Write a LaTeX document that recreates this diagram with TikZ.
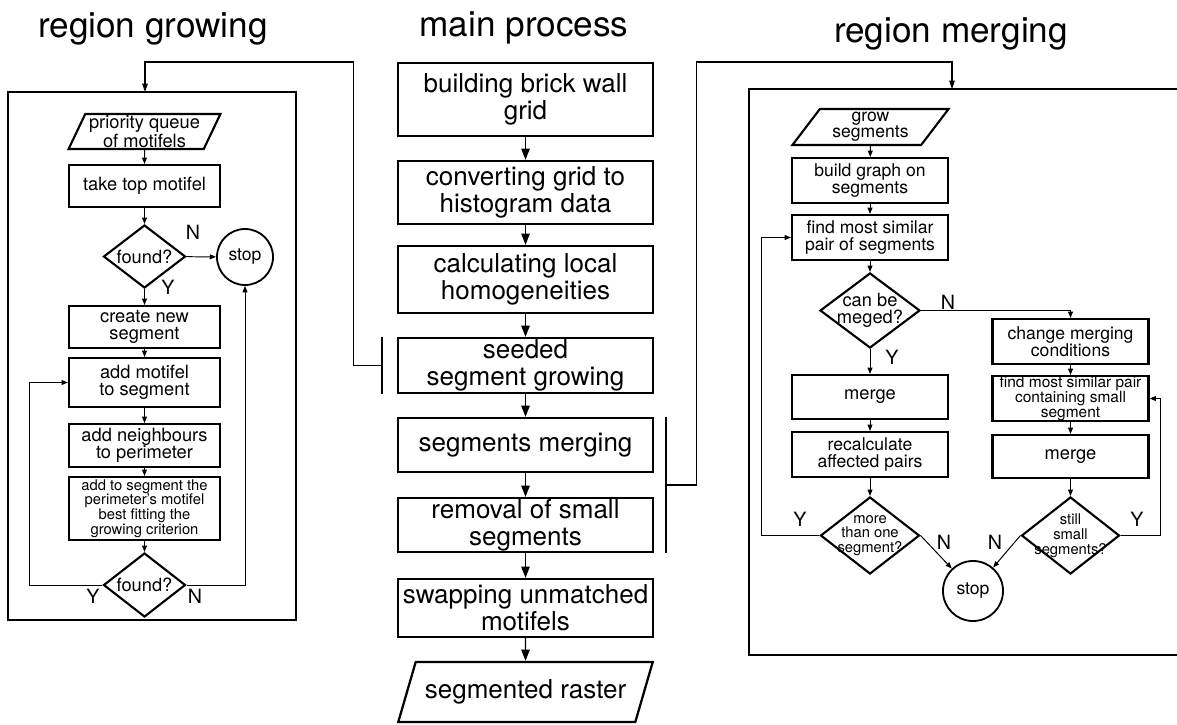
\documentclass[tikz,border=0pt]{standalone}
\usepackage{fontspec}
\setmainfont{TeX Gyre Heros}
\usetikzlibrary{shapes.geometric,arrows.meta,calc}

\tikzset{
  mainbox/.style={draw, line width=1.6pt, minimum width=6.375cm, align=center, inner sep=0pt, font=\fontsize{18.5}{19}\selectfont},
  subbox/.style={draw, line width=1.5pt, align=center, inner sep=0pt, font=\fontsize{13}{12.5}\selectfont},
  growbox/.style={subbox, minimum width=3.775cm},
  mergebox/.style={subbox, minimum width=3.9cm, font=\fontsize{12.5}{12}\selectfont},
  ask/.style={draw, diamond, line width=1.5pt, inner sep=0pt},
  slantbox/.style={draw, trapezium, trapezium stretches=true, line width=1.5pt, align=center, inner sep=0pt},
  endcircle/.style={draw, circle, line width=1.3pt, inner sep=0pt, font=\fontsize{12.5}{12}\selectfont},
  title/.style={font=\fontsize{25}{25}\selectfont, anchor=base},
  yn/.style={font=\fontsize{14}{14}\selectfont},
  mainarrow/.style={line width=0.9pt, -{Triangle[width=6pt,length=8pt]}},
  linkarrow/.style={line width=0.8pt, -{Triangle[width=4pt,length=6pt]}},
  subarrow/.style={line width=0.7pt, -{Triangle[width=3.5pt,length=4.5pt]}},
  bracketline/.style={line width=1.4pt},
  panel/.style={line width=1.6pt},
}

\begin{document}
\begin{tikzpicture}[x=0.025cm, y=-0.025cm]
  \useasboundingbox (0,0) rectangle (1177,724);
  \clip (0,0) rectangle (1177,724);

  % Titles
  \node[title] (titlegrow) at (153,37) {region growing};
  \node[title] (titlemain) at (524,36) {main process};
  \node[title] (titlemerge) at (951,42) {region merging};

  % Main process column
  \node[mainbox, minimum height=1.825cm] (brick) at (525.5,99.5) {building brick wall\\grid};
  \node[mainbox, minimum height=1.575cm] (histo) at (525.5,192.5) {converting grid to\\histogram data};
  \node[mainbox, minimum height=1.675cm] (homog) at (525.5,279.5) {calculating local\\homogeneities};
  \node[mainbox, minimum height=1.375cm] (seeded) at (525.5,365.5) {seeded\\segment growing};
  \node[mainbox, minimum height=1.35cm] (merging) at (525.5,445) {segments merging};
  \node[mainbox, minimum height=1.35cm] (removal) at (525.5,525) {removal of small\\segments};
  \node[mainbox, minimum height=1.45cm] (swap) at (525.5,608) {swapping unmatched\\motifels};
  \node[slantbox, line width=1.6pt, minimum width=6.375cm, minimum height=1.5cm,
        trapezium left angle=57, trapezium right angle=123,
        font=\fontsize{18.5}{19}\selectfont] (raster) at (525.5,692) {segmented raster};

  \draw[mainarrow] (brick) -- (histo);
  \draw[mainarrow] (histo) -- (homog);
  \draw[mainarrow] (homog) -- (seeded);
  \draw[mainarrow] (seeded) -- (merging);
  \draw[mainarrow] (merging) -- (removal);
  \draw[mainarrow] (removal) -- (swap);
  \draw[mainarrow] (swap) -- (raster);

  % Brackets and links to the two panels
  \draw[bracketline] ([xshift=-0.375cm]seeded.north west) -- ([xshift=-0.375cm]seeded.south west);
  \coordinate (seedbar) at ([xshift=-0.375cm]seeded.west);
  \coordinate (growin) at (145,92);
  \draw[linkarrow] (seedbar) -- ++(-28,0) |- ([yshift=0.75cm]growin) -- (growin);

  \draw[bracketline] ([xshift=0.3cm]merging.north east) -- ([xshift=0.3cm]removal.south east);
  \coordinate (mergebar) at ($([xshift=0.3cm]merging.north east)!0.5!([xshift=0.3cm]removal.south east)$);
  \coordinate (mergein) at (952,89);
  \draw[linkarrow] (mergebar) -- ++(30,0) |- ([yshift=0.675cm]mergein) -- (mergein);

  % Region growing panel
  \node[panel, draw, minimum width=7.2cm, minimum height=13.2cm] (growpanel) at (152,356) {};
  \node[slantbox, minimum width=3.8cm, minimum height=0.875cm,
        trapezium left angle=64, trapezium right angle=116,
        font=\fontsize{13}{12}\selectfont] (queue) at (144.5,131.5) {priority queue\\of motifels};
  \node[growbox, minimum height=1.05cm] (taketop) at (144.5,186) {take top motifel};
  \node[ask, minimum width=2.05cm, minimum height=1.575cm,
        label={[font=\fontsize{13}{13}\selectfont]center:found?}] (found1) at (144.5,256.5) {};
  \node[endcircle, minimum size=1.4cm] (stop1) at (245,257) {stop};
  \node[growbox, minimum height=1.05cm] (newseg) at (144.5,327) {create new\\segment};
  \node[growbox, minimum height=1.225cm] (addmot) at (144.5,382.5) {add motifel\\to segment};
  \node[growbox, minimum height=1.075cm] (addneigh) at (144.5,445.5) {add neighbours\\to perimeter};
  \node[growbox, minimum height=1.575cm, font=\fontsize{10.5}{10.5}\selectfont] (addbest) at (144.5,508.5)
        {add to segment the\\perimeter's motifel\\best fitting the\\growing criterion};
  \node[ask, minimum width=2.05cm, minimum height=1.6cm,
        label={[font=\fontsize{13}{13}\selectfont]center:found?}] (found2) at (144.5,585) {};

  \draw[subarrow] (queue) -- (taketop);
  \draw[subarrow] (taketop) -- (found1);
  \draw[subarrow] (found1) -- (stop1);
  \draw[subarrow] (found1) -- (newseg);
  \draw[subarrow] (newseg) -- (addmot);
  \draw[subarrow] (addmot) -- (addneigh);
  \draw[subarrow] (addneigh) -- (addbest);
  \draw[subarrow] (addbest) -- (found2);
  \draw[subarrow] (found2.west) -- ++(-73,0) |- (addmot.west);
  \draw[subarrow] (found2.east) -| (stop1.south);

  \node[yn] (grown1) at (193,232) {N};
  \node[yn] (growy1) at (168,287) {Y};
  \node[yn] (growy2) at (93,596) {Y};
  \node[yn] (grown2) at (195,596) {N};

  % Region merging panel
  \draw[panel] (1185,89) -- (749,89) -- (749,655) -- (1185,655);
  \node[slantbox, minimum width=3.925cm, minimum height=0.9cm,
        trapezium left angle=55, trapezium right angle=125,
        font=\fontsize{12.5}{11.5}\selectfont] (grow) at (870.5,127) {grow\\segments};
  \node[mergebox, minimum height=1.125cm] (graph) at (870,180.5) {build graph on\\segments};
  \node[mergebox, minimum height=1.125cm] (pair) at (870,237.5) {find most similar\\pair of segments};
  \node[ask, minimum width=2.5cm, minimum height=1.875cm,
        label={[font=\fontsize{13}{12.5}\selectfont, align=center]center:can be\\meged?}] (canmerge) at (870,310.5) {};
  \node[mergebox, minimum height=1.1cm, font=\fontsize{13}{13}\selectfont] (merge1) at (870,397) {merge};
  \node[mergebox, minimum height=1.125cm] (recalc) at (870,454.5) {recalculate\\affected pairs};
  \node[ask, minimum width=2.475cm, minimum height=1.925cm,
        label={[font=\fontsize{10.5}{10.5}\selectfont, align=center]center:more\\than one\\segment?}] (morethan) at (870,535.5) {};
  \node[mergebox, minimum height=1.125cm] (change) at (1070.5,341.5) {change merging\\conditions};
  \node[mergebox, minimum height=1.125cm, font=\fontsize{11}{10.5}\selectfont] (findsmall) at (1070.5,398.5)
        {find most similar pair\\containing small\\segment};
  \node[mergebox, minimum height=1.075cm, font=\fontsize{13}{13}\selectfont] (merge2) at (1070.5,456.5) {merge};
  \node[ask, minimum width=2.45cm, minimum height=1.925cm,
        label={[font=\fontsize{10.5}{10.5}\selectfont, align=center]center:still\\small\\segments?}] (still) at (1070.5,535.5) {};
  \node[endcircle, minimum size=1.5cm] (stop2) at (973,591) {stop};

  \draw[subarrow] (grow) -- (graph);
  \draw[subarrow] (graph) -- (pair);
  \draw[subarrow] (pair) -- (canmerge);
  \draw[subarrow] (canmerge) -- (merge1);
  \draw[subarrow] (merge1) -- (recalc);
  \draw[subarrow] (recalc) -- (morethan);
  \draw[subarrow] (canmerge.east) -| (change.north);
  \draw[subarrow] (change) -- (findsmall);
  \draw[subarrow] (findsmall) -- (merge2);
  \draw[subarrow] (merge2) -- (still);
  \draw[subarrow] (morethan.west) -- ++(-58,0) |- (pair.west);
  \draw[subarrow] (still.east) -- ++(40,0) |- (findsmall.east);
  \draw[subarrow] (morethan.east) -- (stop2);
  \draw[subarrow] (still.west) -- (stop2);

  \node[yn] (mergen1) at (948,302) {N};
  \node[yn] (mergey1) at (892,357) {Y};
  \node[yn] (mergey2) at (800,519) {Y};
  \node[yn] (mergen2) at (944,542) {N};
  \node[yn] (mergen3) at (995,542) {N};
  \node[yn] (mergey3) at (1137,519) {Y};
\end{tikzpicture}
\end{document}
